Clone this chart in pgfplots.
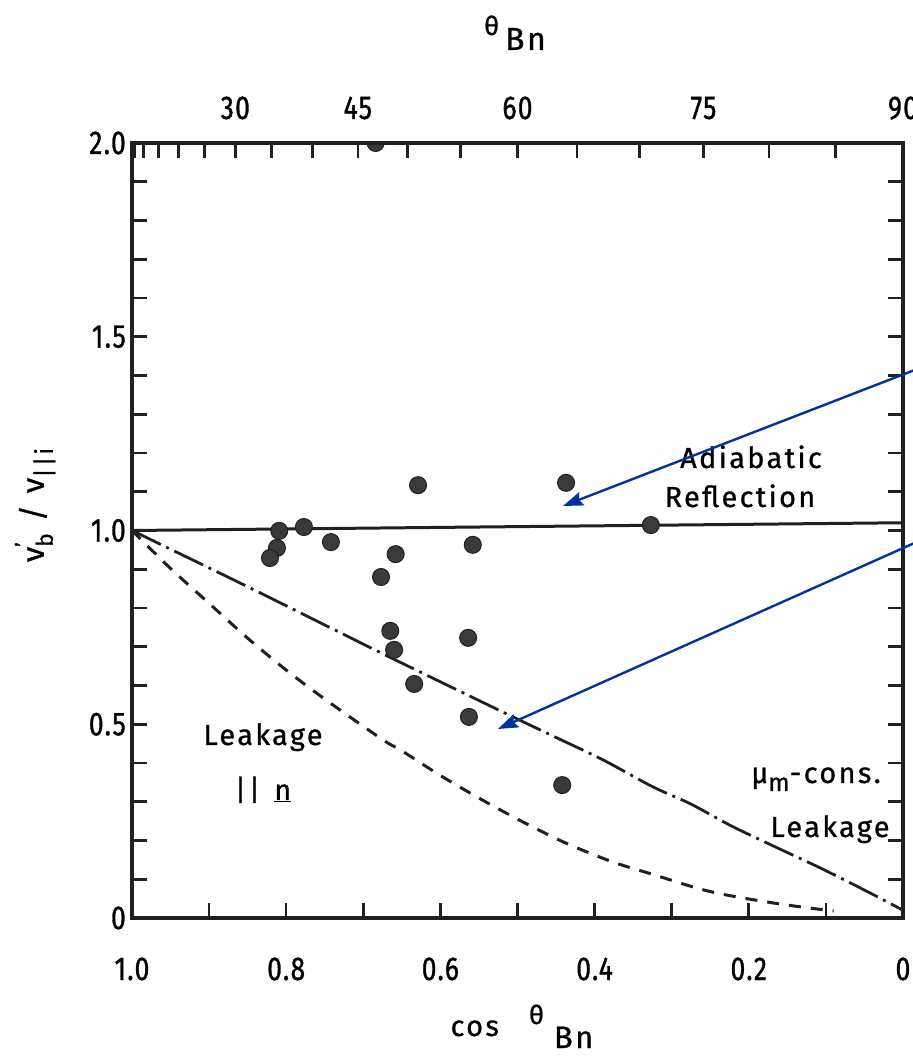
\documentclass[border=0pt]{standalone}
\usepackage{pgfplots}
\pgfplotsset{compat=1.18}
\usepackage{fontspec}
\setmainfont{Fira Sans}[LetterSpace=8, FakeBold=0.8]
\newfontfamily\tickfont{Fira Sans}[FakeStretch=0.8, FakeBold=1, LetterSpace=4]
\usetikzlibrary{arrows.meta}

\definecolor{ink}{RGB}{32,32,32}
\definecolor{dot}{RGB}{58,58,58}
\definecolor{note}{RGB}{0,50,160}

% measured points: v_b'/v_||i versus cos theta_Bn
\pgfplotstableread{
x y
0.684 2.000
0.629 1.117
0.437 1.123
0.809 0.999
0.777 1.009
0.742 0.970
0.327 1.014
0.558 0.963
0.658 0.939
0.677 0.880
0.812 0.955
0.821 0.929
0.665 0.741
0.660 0.692
0.634 0.604
0.564 0.723
0.563 0.519
0.442 0.343
}\measured

\newcommand{\ticksize}{\tickfont\fontsize{33}{33}\selectfont}
\newcommand{\lblsize}{\fontsize{29}{31}\selectfont}

\begin{document}
\begin{tikzpicture}[x=1pt,y=1pt]
\useasboundingbox (-132,-140) rectangle (781,918);

% main frame: cos theta_Bn below, ratio on the left, minor ticks on all sides
\begin{axis}[
  at={(0,0)}, anchor=south west,
  scale only axis, width=771pt, height=775pt,
  xmin=0, xmax=1, ymin=0, ymax=2,
  x dir=reverse,
  axis line style={line width=3.2pt, ink},
  every tick/.style={line width=2.6pt, ink},
  tick align=inside,
  major tick length=15pt, minor tick length=15pt,
  xtick={0,0.2,0.4,0.6,0.8,1},
  xticklabels={0,0.2,0.4,0.6,0.8,1.0},
  minor x tick num=1,
  xtick pos=bottom,
  ytick={0,0.5,1,1.5,2},
  yticklabels={0,0.5,1.0,1.5,2.0},
  minor y tick num=4,
  ytick pos=both,
  /pgf/number format/assume math mode=true,
  xticklabel style={font=\ticksize, anchor=base, yshift=-62pt},
  yticklabel style={font=\ticksize, anchor=east, inner sep=0pt, xshift=-6pt},
  clip=true, clip marker paths=true,
]
% adiabatic reflection level
\addplot[ink, line width=3pt] coordinates {(1,1.0) (0,1.02)};
% mu_m-conserving leakage
\addplot[ink, line width=2.8pt, smooth, dash pattern=on 32pt off 6pt on 3pt off 6pt]
  coordinates {
  (1.000,1.000) (0.847,0.852) (0.685,0.692) (0.613,0.622) (0.559,0.570)
  (0.506,0.519) (0.449,0.465) (0.389,0.408) (0.324,0.338) (0.276,0.295)
  (0.222,0.237) (0.163,0.181) (0.105,0.127) (0.045,0.067) (0.000,0.020)};
% leakage parallel to the shock normal
\addplot[ink, line width=3pt, dash pattern=on 12pt off 10pt, smooth]
  coordinates {
  (1.000,1.000) (0.950,0.902) (0.900,0.812) (0.847,0.717) (0.795,0.632)
  (0.743,0.555) (0.674,0.459) (0.652,0.434) (0.601,0.369) (0.546,0.305)
  (0.493,0.248) (0.438,0.194) (0.377,0.145) (0.322,0.111) (0.267,0.077)
  (0.228,0.059) (0.169,0.039) (0.130,0.028) (0.090,0.018)};
% observations
\addplot[only marks, mark=*, mark size=8.5pt,
  mark options={fill=dot, draw=ink, line width=1pt}] table[x=x, y=y] {\measured};
\end{axis}

% upper scale: theta_Bn in degrees at cos theta_Bn positions
\begin{axis}[
  at={(0,0)}, anchor=south west,
  scale only axis, width=771pt, height=775pt,
  xmin=0, xmax=1, ymin=0, ymax=2,
  x dir=reverse,
  axis x line*=top, axis y line=none,
  axis line style={line width=3.2pt, ink},
  every tick/.style={line width=2.6pt, ink},
  tick align=inside,
  major tick length=15pt,
  xtick={0.9962,0.9848,0.9659,0.9397,0.9063,0.8660,0.8192,0.7660,0.7071,
         0.6428,0.5736,0.5000,0.4226,0.3420,0.2588,0.1736,0.0872,0},
  xticklabels={,,,,,30,,,45,,,60,,,75,,,90},
  xticklabel style={font=\ticksize, anchor=base, yshift=24pt},
]
\addplot[draw=none] coordinates {(0,0)};
\end{axis}

% axis titles
\node[anchor=base, font=\lblsize] at (383,868)
  {\raisebox{15pt}{\fontsize{26}{26}\selectfont θ}\hspace{6pt}{\fontsize{32}{32}\selectfont Bn}};
\node[anchor=base, font=\lblsize] at (390,-118)
  {cos\hspace{30pt}\raisebox{12pt}{\fontsize{26}{26}\selectfont θ}\hspace{10pt}\raisebox{-12pt}{\fontsize{31}{31}\selectfont Bn}};
\node[rotate=90, font=\fontsize{31}{33}\selectfont] at (-97,413)
  {v\rlap{\raisebox{14pt}{\fontsize{20}{20}\selectfont '}}\raisebox{-9pt}{\fontsize{23}{23}\selectfont b}\hspace{12pt}/\hspace{12pt}v\raisebox{-9pt}{\fontsize{24}{24}\selectfont ||i}};

% curve annotations
\node[anchor=base, font=\lblsize] at (619,450) {Adiabatic};
\node[anchor=base, font=\lblsize] at (608,411) {Reflection};
\node[anchor=base, font=\lblsize] at (131,173) {Leakage};
\node[anchor=base, font=\lblsize] at (131,118) {||\hspace{14pt}\underline{n}};
\node[anchor=base, font=\lblsize] at (684,135)
  {μ\raisebox{-8pt}{\fontsize{25}{25}\selectfont m}-cons.};
\node[anchor=base, font=\lblsize] at (698,81) {Leakage};

% pointers
\draw[note, line width=2.4pt, -{Stealth[length=20pt, width=14pt, inset=3pt]}]
  (881,586) -- (431,412);
\draw[note, line width=2.4pt, -{Stealth[length=20pt, width=14pt, inset=3pt]}]
  (881,419) -- (366,189);
\end{tikzpicture}
\end{document}
